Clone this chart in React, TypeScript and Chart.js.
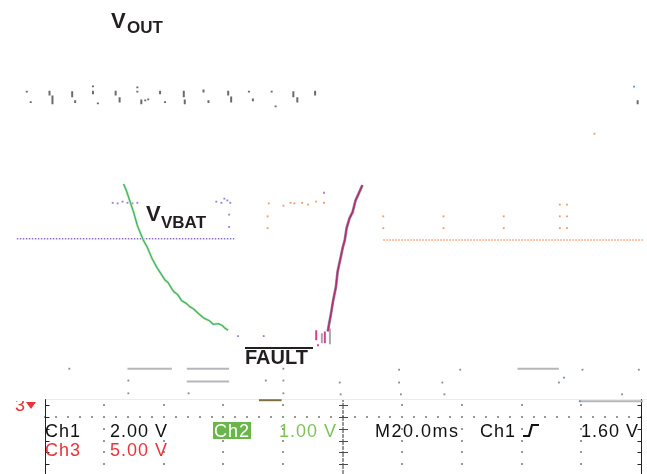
import React, { useEffect, useRef } from "react";
import { Chart, registerables } from "chart.js";

Chart.register(...registerables);

const W = 647;
const H = 474;

// Horizontal axis: time in ms (20 ms/div). Vertical axis: graticule divisions.
const timeMin = -13.6;
const timeMax = 200.7;
const divMin = -0.9;
const divMax = 7.0;

// Graticule of the visible lower strip
const gridTimes = [0, 20, 40, 60, 80, 100, 120, 140, 160, 180, 200];
const minorRowDivs = [0.2, -0.2, -0.4, -0.6, -0.8];
const majorRowDiv = 0;
const graticuleTopDiv = 0.3;

// VOUT trace remnants (short vertical marks): time, top, bottom
const voutMarkTime = [-5.96, -4.64, 1.66, 2.65, 9.27, 10.26, 16.23, 16.23, 17.88, 23.84, 25.17, 31.13, 31.13, 32.45, 33.77, 34.77, 38.74, 40.4, 46.69, 47.02, 53.31, 54.97, 61.59, 62.58, 68.54, 69.87, 76.16, 77.48, 83.44, 84.77, 90.73, 198.9];
const voutMarkTop = [5.53, 5.35, 5.53, 5.45, 5.52, 5.37, 5.62, 5.53, 5.33, 5.53, 5.42, 5.6, 5.53, 5.38, 5.38, 5.4, 5.53, 5.35, 5.53, 5.38, 5.55, 5.37, 5.53, 5.43, 5.53, 5.4, 5.53, 5.28, 5.52, 5.42, 5.53, 5.37];
const voutMarkBottom = [5.5, 5.32, 5.45, 5.3, 5.42, 5.32, 5.59, 5.47, 5.3, 5.45, 5.33, 5.57, 5.5, 5.3, 5.35, 5.37, 5.47, 5.32, 5.42, 5.3, 5.5, 5.32, 5.45, 5.33, 5.5, 5.35, 5.5, 5.25, 5.42, 5.33, 5.45, 5.3];

// Ch2 – VBAT decay
const vbatTime = [26.5, 27.5, 28.8, 29.8, 31.1, 32.1, 33.1, 34.4, 36.1, 37.7, 39.4, 40.4, 41.4, 42.7, 43.4, 44.7, 46.0, 47.4, 48.7, 50.0, 51.7, 53.6, 55.3, 56.6, 58.3, 59.6, 60.6, 61.6];
const vbatDiv = [3.95, 3.83, 3.63, 3.48, 3.25, 3.12, 3.0, 2.88, 2.68, 2.53, 2.4, 2.32, 2.28, 2.17, 2.12, 2.07, 1.97, 1.93, 1.87, 1.83, 1.75, 1.67, 1.63, 1.57, 1.58, 1.55, 1.5, 1.47];

// VBAT reference level and its marker dots
const vbatRefStart = -9.3;
const vbatRefEnd = 63.6;
const vbatRefDiv = 3.02;
const vbatDotTime = [22.85, 24.5, 26.16, 27.81, 29.47, 31.13, 57.6, 59.3, 60.3, 61.3, 62.3, 61.9, 61.9, 93.7, 64.9, 73.5];
const vbatDotDiv = [3.63, 3.62, 3.65, 3.63, 3.62, 3.63, 3.65, 3.63, 3.7, 3.67, 3.63, 3.43, 3.22, 3.8, 1.37, 1.37];

// Ch3 – FAULT ramp
const faultTime = [95.0, 95.4, 96.0, 96.7, 97.7, 98.3, 99.3, 100.0, 100.7, 101.3, 102.3, 103.3, 104.3, 105.3, 106.6];
const faultDiv = [1.45, 1.57, 1.73, 1.95, 2.2, 2.47, 2.7, 2.87, 3.0, 3.2, 3.37, 3.47, 3.67, 3.78, 3.93];
const faultEdgeTime = [91.1, 91.7, 94.0];
const faultEdgeTop = [1.47, 1.23, 1.45];
const faultEdgeBottom = [1.3, 1.2, 1.25];
const faultShadowTime = [93.0, 95.7];
const faultShadowTop = [1.42, 1.5];
const faultShadowBottom = [1.25, 1.23];

// Level after recovery and its marker dots
const levelStart = 113.6;
const levelEnd = 200.7;
const levelDiv = 3.0;
const levelDotTime = [75.2, 80.1, 82.5, 83.8, 86.4, 88.4, 91.1, 93.7, 74.8, 74.8, 113.6, 113.6, 133.8, 133.8, 154.0, 154.0, 172.8, 175.2, 172.8, 175.2, 172.8, 175.2, 184.4];
const levelDotDiv = [3.62, 3.58, 3.63, 3.62, 3.63, 3.6, 3.65, 3.63, 3.4, 3.2, 3.4, 3.2, 3.4, 3.2, 3.4, 3.2, 3.6, 3.6, 3.4, 3.4, 3.2, 3.2, 4.8];

// Gray remnants above the status strip
const grayLineStart = [27.8, 47.7, 158.6, 47.7, 179.5];
const grayLineEnd = [42.7, 61.9, 172.5, 61.9, 200.7];
const grayLineDiv = [0.817, 0.817, 0.817, 0.6, 0.267];
const oliveLineStart = [71.9];
const oliveLineEnd = [79.5];
const oliveLineDiv = [0.283];
const grayDotTime = [8.3, 80.1, 118.9, 139.4, 180.4, 199.3, 28.1, 74.2, 80.1, 99.0, 118.9, 133.4, 172.5, 28.1, 48.3, 80.1, 99.3, 119.5, 134.1, 193.7];
const grayDotDiv = [0.817, 0.817, 0.8, 0.8, 0.8, 0.8, 0.617, 0.617, 0.617, 0.583, 0.583, 0.583, 0.583, 0.4, 0.4, 0.4, 0.383, 0.383, 0.383, 0.383];
const blueDotTime = [174.2, 179.5, 197.7];
const blueDotDiv = [0.667, 0.267, 5.6];

type Pt = { x: number; y: number | null };

function pairs(xs: number[], ys: number[]): Pt[] {
  return xs.map((x, i) => ({ x, y: ys[i] }));
}

function vSegments(times: number[], tops: number[], bottoms: number[]): Pt[] {
  const pts: Pt[] = [];
  times.forEach((t, i) => {
    pts.push({ x: t, y: tops[i] }, { x: t, y: bottoms[i] }, { x: t, y: null });
  });
  return pts;
}

function hSegments(starts: number[], ends: number[], levels: number[]): Pt[] {
  const pts: Pt[] = [];
  starts.forEach((s, i) => {
    pts.push({ x: s, y: levels[i] }, { x: ends[i], y: levels[i] }, { x: ends[i], y: null });
  });
  return pts;
}

const lineBase = { showLine: true, pointRadius: 0, spanGaps: false, tension: 0, fill: false };
const dotBase = { showLine: false, pointStyle: "rect", pointRadius: 1.3, pointBorderWidth: 0 };

const scopePlugin = {
  id: "scopeScreen",
  beforeDraw(chart: any) {
    const ctx = chart.ctx;
    ctx.save();
    ctx.fillStyle = "#ffffff";
    ctx.fillRect(0, 0, chart.width, chart.height);
    ctx.restore();
  },
  beforeDatasetsDraw(chart: any) {
    const ctx = chart.ctx;
    const X = (t: number) => chart.scales.x.getPixelForValue(t);
    const Y = (d: number) => chart.scales.y.getPixelForValue(d);
    const top = Y(graticuleTopDiv);
    const bottom = chart.height;
    ctx.save();

    // faint upper edge of the strip
    ctx.strokeStyle = "#ececec";
    ctx.lineWidth = 1;
    ctx.beginPath();
    ctx.moveTo(X(0), Math.round(top) + 0.5);
    ctx.lineTo(chart.width, Math.round(top) + 0.5);
    ctx.stroke();

    ctx.fillStyle = "#4a4a4a";
    const dot = (x: number, y: number) => ctx.fillRect(Math.round(x) - 0.75, Math.round(y) - 0.75, 1.5, 1.5);

    // column dots
    gridTimes.forEach((t, i) => {
      if (i === 0 || i === gridTimes.length - 1 || t === 100) return;
      minorRowDivs.forEach((d) => dot(X(t), Y(d)));
    });
    // major row dotted
    for (let t = gridTimes[0]; t <= gridTimes[gridTimes.length - 1] + 0.01; t += 4) {
      dot(X(t), Y(majorRowDiv));
    }
    // centre column: dotted line with cross ticks
    const cx = Math.round(X(100));
    for (let y = top + 2; y < bottom; y += 2.4) dot(cx, y);
    ctx.strokeStyle = "#4a4a4a";
    ctx.lineWidth = 1;
    [...minorRowDivs, majorRowDiv].forEach((d) => {
      const y = Math.round(Y(d)) + 0.5;
      ctx.beginPath();
      ctx.moveTo(cx - 4, y);
      ctx.lineTo(cx + 5, y);
      ctx.stroke();
    });
    // left and right edges with ticks
    const lx = Math.round(X(0)) + 0.5;
    const rx = Math.round(X(200)) + 0.5;
    ctx.strokeStyle = "#222";
    ctx.beginPath();
    ctx.moveTo(lx, top);
    ctx.lineTo(lx, bottom);
    ctx.moveTo(rx, top);
    ctx.lineTo(rx, bottom);
    ctx.stroke();
    [...minorRowDivs, majorRowDiv].forEach((d) => {
      const y = Math.round(Y(d)) + 0.5;
      ctx.beginPath();
      ctx.moveTo(lx, y);
      ctx.lineTo(lx + 4, y);
      ctx.moveTo(rx, y);
      ctx.lineTo(rx - 4, y);
      ctx.stroke();
    });
    ctx.restore();
  },
  afterDatasetsDraw(chart: any) {
    const ctx = chart.ctx;
    ctx.save();
    ctx.textBaseline = "alphabetic";
    ctx.textAlign = "left";

    // signal labels
    ctx.fillStyle = "#231f20";
    ctx.font = 'bold 22px "Liberation Sans", Arial, sans-serif';
    ctx.fillText("V", 111, 28);
    ctx.font = 'bold 17px "Liberation Sans", Arial, sans-serif';
    ctx.fillText("OUT", 127, 33);

    ctx.font = 'bold 22px "Liberation Sans", Arial, sans-serif';
    ctx.fillText("V", 146, 221);
    ctx.font = 'bold 17px "Liberation Sans", Arial, sans-serif';
    ctx.fillText("VBAT", 161, 228);

    ctx.font = 'bold 20px "Liberation Sans", Arial, sans-serif';
    ctx.fillText("FAULT", 245, 364);
    ctx.fillRect(245, 347, 68, 2);

    // channel 3 marker, partly hidden above the strip
    ctx.save();
    ctx.beginPath();
    ctx.rect(0, 401, 60, 20);
    ctx.clip();
    ctx.fillStyle = "#e8333a";
    ctx.font = '18px "Liberation Sans", Arial, sans-serif';
    ctx.fillText("3", 15, 411);
    ctx.beginPath();
    ctx.moveTo(26, 402);
    ctx.lineTo(36, 402);
    ctx.lineTo(31, 409);
    ctx.closePath();
    ctx.fill();
    ctx.restore();

    // status readout
    ctx.font = '18px "Liberation Sans", Arial, sans-serif';
    (ctx as any).letterSpacing = "1px";
    ctx.fillStyle = "#111";
    ctx.fillText("Ch1", 45, 437);
    ctx.fillText("2.00 V", 110, 437);
    ctx.fillStyle = "#6bb64a";
    ctx.fillRect(213, 422, 38, 17);
    ctx.fillStyle = "#ffffff";
    ctx.fillText("Ch2", 214, 437);
    ctx.fillStyle = "#7ec35a";
    ctx.fillText("1.00 V", 279, 437);
    ctx.fillStyle = "#111";
    (ctx as any).letterSpacing = "1.5px";
    ctx.fillText("M20.0ms", 375, 437);
    (ctx as any).letterSpacing = "1px";
    ctx.fillText("Ch1", 480, 437);
    ctx.fillText("1.60 V", 581, 437);
    ctx.fillStyle = "#e8333a";
    ctx.fillText("Ch3", 45, 456);
    ctx.fillText("5.00 V", 110, 456);

    // rising-edge trigger glyph
    ctx.strokeStyle = "#111";
    ctx.lineWidth = 2.2;
    ctx.beginPath();
    ctx.moveTo(523, 436);
    ctx.lineTo(529, 436);
    ctx.lineTo(532, 425);
    ctx.lineTo(539, 425);
    ctx.stroke();
    ctx.restore();
  },
};

export default function App() {
  const canvasRef = useRef<HTMLCanvasElement | null>(null);

  useEffect(() => {
    if (!canvasRef.current) return;
    // listed bottom-most first; `order` makes later entries paint on top
    const layers: any[] = [
      { ...lineBase, data: vSegments(voutMarkTime, voutMarkTop, voutMarkBottom), borderColor: "#6f6969", borderWidth: 2 },
      { ...lineBase, data: [{ x: vbatRefStart, y: vbatRefDiv }, { x: vbatRefEnd, y: vbatRefDiv }], borderColor: "#8b6fc6", borderWidth: 1.5, borderDash: [1.5, 1.5] },
      { ...lineBase, data: [{ x: levelStart, y: levelDiv }, { x: levelEnd, y: levelDiv }], borderColor: "#f39a62", borderWidth: 1.5, borderDash: [1.5, 1.5] },
      { ...dotBase, data: pairs(vbatDotTime, vbatDotDiv), backgroundColor: "#9a80cc" },
      { ...dotBase, data: pairs(levelDotTime, levelDotDiv), backgroundColor: "#f29a66" },
      { ...lineBase, data: pairs(vbatTime, vbatDiv), borderColor: "#d7ec98", borderWidth: 2.6 },
      { ...lineBase, data: pairs(vbatTime, vbatDiv), borderColor: "#34b58c", borderWidth: 1.3 },
      { ...lineBase, data: vSegments(faultShadowTime, faultShadowTop, faultShadowBottom), borderColor: "#aaa6aa", borderWidth: 2 },
      { ...lineBase, data: pairs(faultTime, faultDiv), borderColor: "#9a949b", borderWidth: 2.8 },
      { ...lineBase, data: pairs(faultTime, faultDiv), borderColor: "#b82a78", borderWidth: 1.6 },
      { ...lineBase, data: vSegments(faultEdgeTime, faultEdgeTop, faultEdgeBottom), borderColor: "#d8418f", borderWidth: 2 },
      { ...lineBase, data: hSegments(grayLineStart, grayLineEnd, grayLineDiv), borderColor: "#b8b6bb", borderWidth: 2 },
      { ...lineBase, data: hSegments(oliveLineStart, oliveLineEnd, oliveLineDiv), borderColor: "#7f7040", borderWidth: 2 },
      { ...dotBase, data: pairs(grayDotTime, grayDotDiv), backgroundColor: "#8d8a96" },
      { ...dotBase, data: pairs(blueDotTime, blueDotDiv), backgroundColor: "#5c8fd0" },
    ];
    const chart = new Chart(canvasRef.current, {
      type: "scatter",
      data: { datasets: layers.map((ds, i) => ({ ...ds, order: -i })) },
      options: {
        responsive: false,
        maintainAspectRatio: false,
        animation: false,
        devicePixelRatio: 1,
        layout: { padding: 0 },
        plugins: { legend: { display: false }, tooltip: { enabled: false } },
        scales: {
          x: { type: "linear", min: timeMin, max: timeMax, display: false },
          y: { type: "linear", min: divMin, max: divMax, display: false },
        },
      },
      plugins: [scopePlugin],
    });
    return () => chart.destroy();
  }, []);

  return (
    <div style={{ position: "absolute", left: 0, top: 0, width: W, height: H, background: "#fff" }}>
      <canvas ref={canvasRef} width={W} height={H} style={{ display: "block", width: W, height: H }} />
    </div>
  );
}
